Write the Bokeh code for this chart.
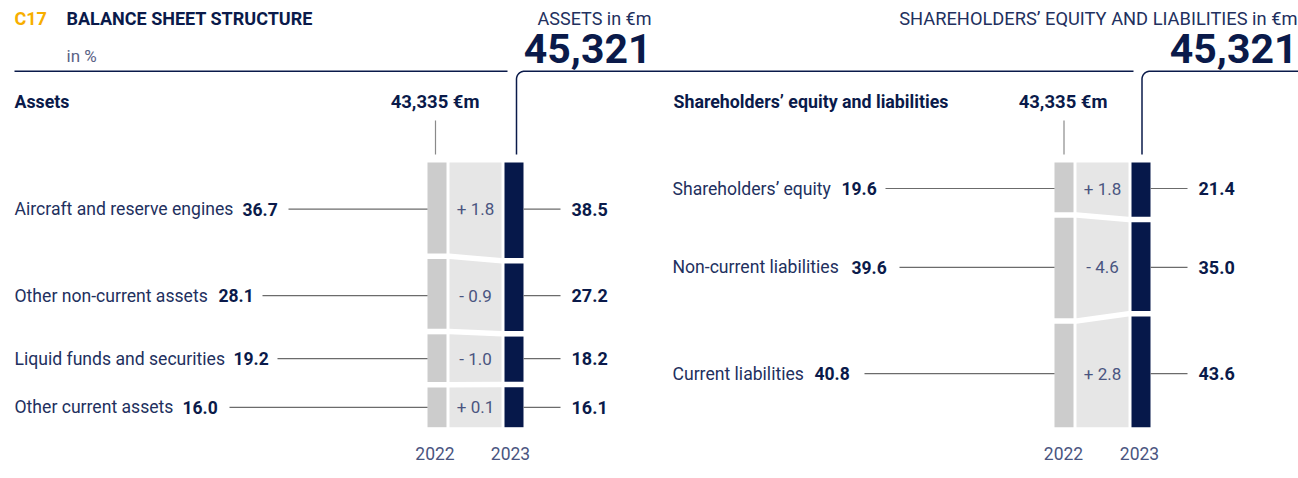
import numpy as np
from bokeh.plotting import figure
from bokeh.models import Range1d
from bokeh.core.properties import value
from bokeh.embed import file_html
from bokeh.resources import INLINE

# ---------------- data ----------------
years = ["2022", "2023"]
asset_items = ["Aircraft and reserve engines", "Other non-current assets",
               "Liquid funds and securities", "Other current assets"]
assets_2022 = [36.7, 28.1, 19.2, 16.0]
assets_2023 = [38.5, 27.2, 18.2, 16.1]
liab_items = ["Shareholders\u2019 equity", "Non-current liabilities", "Current liabilities"]
liab_2022 = [19.6, 39.6, 40.8]
liab_2023 = [21.4, 35.0, 43.6]
total_2022 = 43335
total_2023 = 45321

# ---------------- style ----------------
NAVY = "#0A1A4A"
TEXT = "#22305E"
SOFT = "#4A5580"
GREY22 = "#CCCCCC"
BAND = "#E6E6E6"
BAR23 = "#06184A"
LEAD = "#6B6B6B"
ORANGE = "#F7AE00"
FONT = value("Roboto")

W, H = 1298, 478
OFF = 0


def fx(x):
    return x - OFF


def fy(y):
    return y - OFF


p = figure(width=W, height=H, x_range=Range1d(0, W), y_range=Range1d(H, 0),
           output_backend="svg", toolbar_location=None, min_border=0,
           outline_line_color=None, x_axis_type=None, y_axis_type=None)
p.grid.visible = False

BAR_TOP, BAR_BOT, GAP = fy(162), fy(426.7), 5.5


def pct_range(n):
    k = (BAR_BOT - BAR_TOP - (n - 1) * GAP) / 100.0
    return Range1d(start=(H - BAR_TOP) / k, end=-BAR_TOP / k), GAP / k


rng_a, gap_a = pct_range(len(asset_items))
rng_l, gap_l = pct_range(len(liab_items))
p.extra_y_ranges = {"assets": rng_a, "liab": rng_l}


def txt(x, y, s, size="16px", color=TEXT, bold=False, align="left", rname="default"):
    p.text(x=[x], y=[y], text=[s], text_font=FONT, text_font_size=size,
           text_color=color, text_font_style="bold" if bold else "normal",
           text_align=align, text_baseline="middle", y_range_name=rname)


def fmt_change(d):
    return ("+ " if d >= 0 else "- ") + f"{abs(d):.1f}"


def panel(rname, gap, items, v22, v23, x22, xb, x23, val_x, line_x, year_x, name_x):
    v22 = np.array(v22)
    v23 = np.array(v23)
    n = len(items)
    t22 = np.concatenate([[0], np.cumsum(v22)[:-1]]) + np.arange(n) * gap
    b22 = t22 + v22
    t23 = np.concatenate([[0], np.cumsum(v23)[:-1]]) + np.arange(n) * gap
    b23 = t23 + v23
    p.quad(left=fx(x22[0]), right=fx(x22[1]), top=t22, bottom=b22,
           fill_color=GREY22, line_color=None, y_range_name=rname)
    p.quad(left=fx(x23[0]), right=fx(x23[1]), top=t23, bottom=b23,
           fill_color=BAR23, line_color=None, y_range_name=rname)
    xs = [[fx(xb[0]), fx(xb[1]), fx(xb[1]), fx(xb[0])] for _ in range(n)]
    ys = [[t22[i], t23[i], b23[i], b22[i]] for i in range(n)]
    p.patches(xs=xs, ys=ys, fill_color=BAND, line_color=None, y_range_name=rname)
    ly = (t22 + b22 + t23 + b23) / 4.0
    # leader lines
    p.segment(x0=[fx(v) for v in line_x], y0=ly, x1=fx(x22[0]), y1=ly,
              line_color=LEAD, line_width=1.2, y_range_name=rname)
    p.segment(x0=fx(x23[1]), y0=ly, x1=fx(x23[1] + 37), y1=ly,
              line_color=LEAD, line_width=1.2, y_range_name=rname)
    for i in range(n):
        txt(fx(name_x), ly[i], items[i], size="17.6px", color=TEXT, rname=rname)
        txt(fx(val_x[i]), ly[i], f"{v22[i]:.1f}", size="17.5px", color=NAVY, bold=True, rname=rname)
        txt(fx(x23[1] + 48), ly[i], f"{v23[i]:.1f}", size="18px", color=NAVY, bold=True, rname=rname)
        txt(fx((xb[0] + xb[1]) / 2), ly[i], fmt_change(v23[i] - v22[i]), size="17px",
            color=SOFT, align="center", rname=rname)
    for yx, yr in zip(year_x, years):
        txt(fx(yx), fy(453), yr, size="17.5px", color=SOFT, align="center")


panel("assets", gap_a, asset_items, assets_2022, assets_2023,
      (427, 446), (449, 501), (504, 523),
      val_x=[242, 218, 233, 182], line_x=[288, 262, 277, 229],
      year_x=[434.5, 510], name_x=14)
panel("liab", gap_l, liab_items, liab_2022, liab_2023,
      (1054, 1073), (1076, 1128), (1131, 1150),
      val_x=[841, 851, 814], line_x=[885, 899, 864],
      year_x=[1063, 1139], name_x=672)

# 2022 ticks
p.segment(x0=[fx(435), fx(1063.5)], y0=fy(120), x1=[fx(435), fx(1063.5)], y1=fy(154),
          line_color="#8A8A8A", line_width=1.2)

# header underline
p.line(x=[fx(14), fx(507)], y=[fy(70.7), fy(70.7)], line_color=NAVY, line_width=1.5)


def bracket(x, yb, yl, xe, r=8):
    th = np.linspace(np.pi, 1.5 * np.pi, 14)
    xs = [x] + list(x + r + r * np.cos(th)) + [xe]
    ys = [yb] + list(yl + r + r * np.sin(th)) + [yl]
    p.line(x=[fx(v) for v in xs], y=[fy(v) for v in ys], line_color=NAVY, line_width=1.5)


bracket(516, 154, 70.7, 1133)
bracket(1141.5, 154, 70.7, 1298)

# header texts
txt(fx(14), fy(18), "C17", size="18px", color=ORANGE, bold=True)
txt(fx(66), fy(18), "BALANCE SHEET STRUCTURE", size="18px", color=NAVY, bold=True)
txt(fx(66), fy(55), "in %", size="17px", color="#5A6385")
txt(fx(651), fy(18), "ASSETS in \u20acm", size="18px", color=TEXT, align="right")
txt(fx(651), fy(48), f"{total_2023:,}", size="41px", color=NAVY, bold=True, align="right")
txt(fx(1297), fy(18), "SHAREHOLDERS\u2019 EQUITY AND LIABILITIES in \u20acm", size="18.3px",
    color=TEXT, align="right")
txt(fx(1297), fy(48), f"{total_2023:,}", size="41px", color=NAVY, bold=True, align="right")
txt(fx(14), fy(101), "Assets", size="17.8px", color=NAVY, bold=True)
txt(fx(479), fy(101), f"{total_2022:,} \u20acm", size="18.5px", color=NAVY, bold=True, align="right")
txt(fx(673), fy(101), "Shareholders\u2019 equity and liabilities", size="17.8px", color=NAVY, bold=True)
txt(fx(1107), fy(101), f"{total_2022:,} \u20acm", size="18.5px", color=NAVY, bold=True, align="right")

open("out.html", "w").write(file_html(p, INLINE))
